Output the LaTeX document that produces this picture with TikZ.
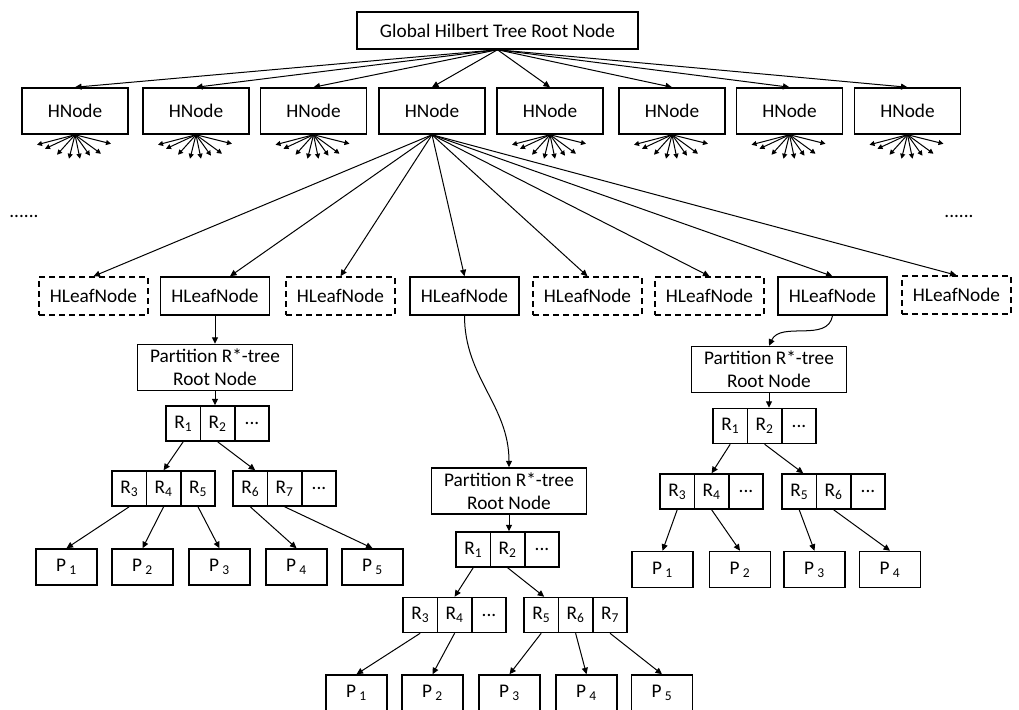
\documentclass[tikz,border=0pt]{standalone}
\usepackage{fontspec}
\setmainfont{Carlito}
\usetikzlibrary{arrows.meta,calc}
\begin{document}
\begin{tikzpicture}[x=1pt,y=-1pt,
  box/.style={draw,line width=1.5pt,inner sep=0pt,align=center,
    font=\fontsize{19.3}{23}\selectfont},
  hnode/.style={box,minimum width=106pt,minimum height=46pt},
  hleaf/.style={box,minimum width=109pt,minimum height=38pt},
  dashedleaf/.style={hleaf,dash pattern=on 6pt off 4pt},
  proot/.style={box,minimum width=155pt,minimum height=46pt},
  cell/.style={box,minimum width=34.4pt,minimum height=35pt},
  pbox/.style={box,minimum width=61pt,minimum height=36pt},
  arr/.style={line width=1pt,-{Triangle[length=6.5pt,width=6pt]}},
  fan/.style={line width=1pt,-{Triangle[length=5pt,width=5pt]}},
  dots/.style={font=\fontsize{19.3}{23}\selectfont,inner sep=0pt}]
\useasboundingbox (0,0) rectangle (1019,709);

% root
\node[box,minimum width=281pt,minimum height=37pt] (root) at (497.5,30.5) {Global Hilbert Tree Root Node};

% HNodes
\foreach \i/\x in {1/75,2/196,3/313.5,4/432,5/550,6/672,7/789.5,8/907.5}
  \node[hnode] (hn\i) at (\x,111) {HNode};

\foreach \i in {1,...,8}
  \draw[arr] (root.south) -- (hn\i.north);

% fans under HNodes (except HNode 4)
\foreach \i in {1,2,3,5,6,7,8}
  \foreach \dx/\dy in {-38/10,-30/14,-18/20,-6/24,5/24,15/21,26/19,36/9}
    \draw[fan] (hn\i.south) -- ++(\dx,\dy);

% dots
\node[dots] (dl) at (24,216) {......};
\node[dots] (dr) at (959,216) {......};

% HLeafNodes
\node[dashedleaf] (hl1) at (93.5,296) {HLeafNode};
\node[hleaf] (hl2) at (215,296) {HLeafNode};
\node[dashedleaf] (hl3) at (340.5,296) {HLeafNode};
\node[hleaf] (hl4) at (464.5,296) {HLeafNode};
\node[dashedleaf] (hl5) at (587.5,296) {HLeafNode};
\node[dashedleaf] (hl6) at (709.5,296) {HLeafNode};
\node[hleaf] (hl7) at (832.5,296) {HLeafNode};
\node[dashedleaf] (hl8) at (956.5,295) {HLeafNode};

\foreach \i in {1,3,4,5,6,7,8}
  \draw[arr] (hn4.south) -- (hl\i.north);
\draw[arr] (hn4.south) -- ([xshift=15pt]hl2.north);

% ---------- left subtree ----------
\node[proot] (pa) at (215,367.5) {Partition R*-tree\\Root Node};
\node[cell] (a1) at (183.2,423.5) {R\textsubscript{1}};
\node[cell] (a2) at (217.6,423.5) {R\textsubscript{2}};
\node[cell] (a0) at (252,423.5) {...};
\node[cell] (a3) at (129.2,488.5) {R\textsubscript{3}};
\node[cell] (a4) at (163.6,488.5) {R\textsubscript{4}};
\node[cell] (a5) at (198,488.5) {R\textsubscript{5}};
\node[cell] (a6) at (250.2,488.5) {R\textsubscript{6}};
\node[cell] (a7) at (284.6,488.5) {R\textsubscript{7}};
\node[cell] (a8) at (319,488.5) {...};
\foreach \i/\x in {1/66.5,2/142.5,3/219.5,4/296.5,5/372.5}
  \node[pbox] (ap\i) at (\x,567) {P\,\textsubscript{\i}};

\draw[arr] (hl2.south) -- (pa.north);
\draw[arr] (pa.south) -- (pa.south |- a2.north);
\draw[arr] (a1.south) -- (a4.north);
\draw[arr] (a2.south) -- ([xshift=5pt]a6.north);
\draw[arr] (a3.south) -- (ap1.north);
\draw[arr] (a4.south) -- (ap2.north);
\draw[arr] (a5.south) -- (ap3.north);
\draw[arr] (a6.south) -- (ap4.north);
\draw[arr] (a7.south) -- (ap5.north);

% ---------- middle subtree ----------
\node[proot] (pb) at (509,491) {Partition R*-tree\\Root Node};
\node[cell] (b1) at (473.2,549.5) {R\textsubscript{1}};
\node[cell] (b2) at (507.6,549.5) {R\textsubscript{2}};
\node[cell] (b0) at (542,549.5) {...};
\node[cell] (b3) at (420.2,615) {R\textsubscript{3}};
\node[cell] (b4) at (454.6,615) {R\textsubscript{4}};
\node[cell] (b8) at (489,615) {...};
\node[cell] (b5) at (541.2,615) {R\textsubscript{5}};
\node[cell] (b6) at (575.6,615) {R\textsubscript{6}};
\node[cell] (b7) at (610,615) {R\textsubscript{7}};
\foreach \i/\x in {1/356.5,2/432.5,3/509.5,4/586.5,5/662}
  \node[pbox] (bp\i) at (\x,693) {P\,\textsubscript{\i}};

\draw[arr] (hl4.south) to[out=-90,in=90] (pb.north);
\draw[arr] (pb.south) -- (pb.south |- b2.north);
\draw[arr] (b1.south) -- (b4.north);
\draw[arr] (b2.south) -- ([xshift=3pt]b5.north);
\draw[arr] (b3.south) -- (bp1.north);
\draw[arr] (b4.south) -- (bp2.north);
\draw[arr] (b5.south) -- (bp3.north);
\draw[arr] (b6.south) -- (bp4.north);
\draw[arr] (b7.south) -- (bp5.north);

% ---------- right subtree ----------
\node[proot] (pc) at (769,369.5) {Partition R*-tree\\Root Node};
\node[cell] (c1) at (730.2,426) {R\textsubscript{1}};
\node[cell] (c2) at (764.6,426) {R\textsubscript{2}};
\node[cell] (c0) at (799,426) {...};
\node[cell] (c3) at (677.2,491.5) {R\textsubscript{3}};
\node[cell] (c4) at (711.6,491.5) {R\textsubscript{4}};
\node[cell] (c8) at (746,491.5) {...};
\node[cell] (c5) at (799.2,491.5) {R\textsubscript{5}};
\node[cell] (c6) at (833.6,491.5) {R\textsubscript{6}};
\node[cell] (c9) at (868,491.5) {...};
\foreach \i/\x in {1/662.5,2/740,3/814.5,4/890}
  \node[pbox] (cp\i) at (\x,569.5) {P\,\textsubscript{\i}};

\draw[arr] (hl7.south) to[out=-100,in=65] (pc.north);
\draw[arr] (pc.south) -- (pc.south |- c2.north);
\draw[arr] (c1.south) -- (c4.north);
\draw[arr] (c2.south) -- ([xshift=4pt]c5.north);
\draw[arr] (c3.south) -- (cp1.north);
\draw[arr] (c4.south) -- (cp2.north);
\draw[arr] (c5.south) -- (cp3.north);
\draw[arr] (c6.south) -- (cp4.north);
\end{tikzpicture}
\end{document}
